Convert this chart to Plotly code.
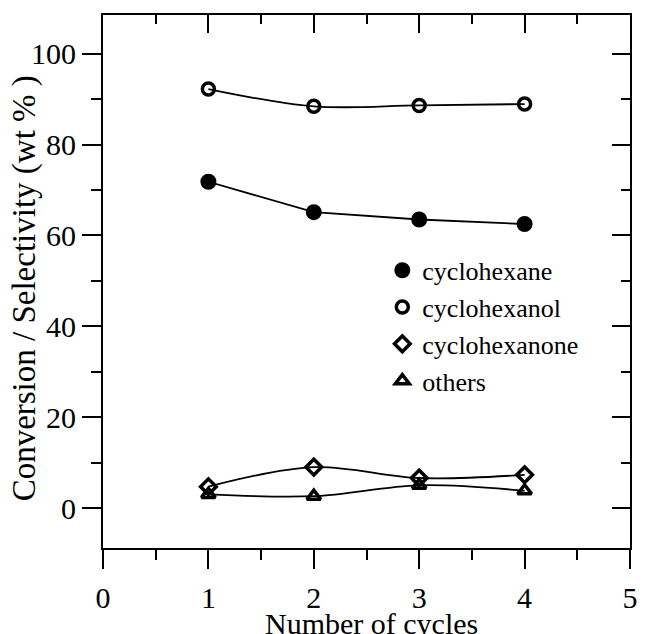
import plotly.graph_objects as go

cycles = [1, 2, 3, 4]
cyclohexane = [71.8, 65.1, 63.5, 62.5]
cyclohexanol = [92.2, 88.4, 88.6, 88.9]
cyclohexanone = [4.7, 9.0, 6.6, 7.3]
others = [3.0, 2.6, 5.0, 3.8]

FONT = "Liberation Serif"
BLACK = "black"

fig = go.Figure()

series = [
    ("cyclohexane", cyclohexane, "circle", "linear", 14, 2),
    ("cyclohexanol", cyclohexanol, "circle-open", "spline", 12, 3.5),
    ("cyclohexanone", cyclohexanone, "diamond-open", "spline", 12, 3.5),
    ("others", others, "triangle-up-open", "spline", 12, 3.5),
]
for name, vals, sym, shape, size, lw in series:
    fig.add_trace(go.Scatter(
        x=cycles, y=vals, name=name, mode="lines+markers",
        showlegend=False,
        line=dict(color=BLACK, width=1.8, shape=shape, smoothing=1.0),
        marker=dict(symbol=sym, size=size, color=BLACK,
                    line=dict(color=BLACK, width=lw)),
    ))
# legend entries: markers only
for name, vals, sym, shape, size, lw in series:
    fig.add_trace(go.Scatter(
        x=[None], y=[None], name=name, mode="markers",
        marker=dict(symbol=sym, size=size, color=BLACK,
                    line=dict(color=BLACK, width=lw)),
    ))

xr = [0, 5]
yr = [-8.8, 108.5]
fig.update_layout(
    width=646, height=634,
    margin=dict(l=103, r=8, t=15, b=86),
    paper_bgcolor="white", plot_bgcolor="white",
    font=dict(family=FONT, size=28, color=BLACK),
    showlegend=True,
    legend=dict(x=0.53, y=0.565, xanchor="left", yanchor="top",
                font=dict(family=FONT, size=26, color=BLACK),
                bgcolor="rgba(0,0,0,0)", tracegroupgap=0,
                itemwidth=30),
    xaxis=dict(range=xr, tickmode="array", tickvals=[0, 1, 2, 3, 4, 5],
               ticks="outside", ticklen=19, tickwidth=2, tickcolor=BLACK,
               minor=dict(tickvals=[0.5, 1.5, 2.5, 3.5, 4.5], ticks="outside",
                          ticklen=10, tickwidth=2, tickcolor=BLACK),
               showline=True, linewidth=2, linecolor=BLACK, showgrid=False,
               zeroline=False, tickfont=dict(size=30), ticklabelstandoff=3),
    yaxis=dict(range=yr, tickmode="array", tickvals=[0, 20, 40, 60, 80, 100],
               ticks="outside", ticklen=19, tickwidth=2, tickcolor=BLACK,
               minor=dict(tickvals=[10, 30, 50, 70, 90], ticks="outside",
                          ticklen=10, tickwidth=2, tickcolor=BLACK),
               showline=True, linewidth=2, linecolor=BLACK, showgrid=False,
               zeroline=False, tickfont=dict(size=30)),
    xaxis2=dict(range=xr, overlaying="x", side="top", tickmode="array",
                tickvals=[0, 1, 2, 3, 4, 5], showticklabels=False,
                ticks="inside", ticklen=18, tickwidth=2, tickcolor=BLACK,
                minor=dict(tickvals=[0.5, 1.5, 2.5, 3.5, 4.5], ticks="inside",
                           ticklen=9, tickwidth=2, tickcolor=BLACK),
                showline=True, linewidth=2, linecolor=BLACK, showgrid=False,
                zeroline=False),
    yaxis2=dict(range=yr, overlaying="y", side="right", tickmode="array",
                tickvals=[0, 20, 40, 60, 80, 100], showticklabels=False,
                ticks="inside", ticklen=18, tickwidth=2, tickcolor=BLACK,
                minor=dict(tickvals=[10, 30, 50, 70, 90], ticks="inside",
                           ticklen=9, tickwidth=2, tickcolor=BLACK),
                showline=True, linewidth=2, linecolor=BLACK, showgrid=False,
                zeroline=False),
    annotations=[
        dict(text="Number of cycles", xref="paper", yref="paper",
             x=0.51, y=-0.141, xanchor="center", yanchor="middle",
             showarrow=False, font=dict(family=FONT, size=30, color=BLACK)),
        dict(text="Conversion / Selectivity (wt % )", xref="paper", yref="paper",
             x=-0.149, y=0.488, xanchor="center", yanchor="middle", textangle=-90,
             showarrow=False, font=dict(family=FONT, size=33, color=BLACK)),
    ],
)
# invisible trace to activate the secondary axes
fig.add_trace(go.Scatter(x=[None], y=[None], xaxis="x2", yaxis="y2",
                         showlegend=False, hoverinfo="skip"))

fig.write_html("out.html")
